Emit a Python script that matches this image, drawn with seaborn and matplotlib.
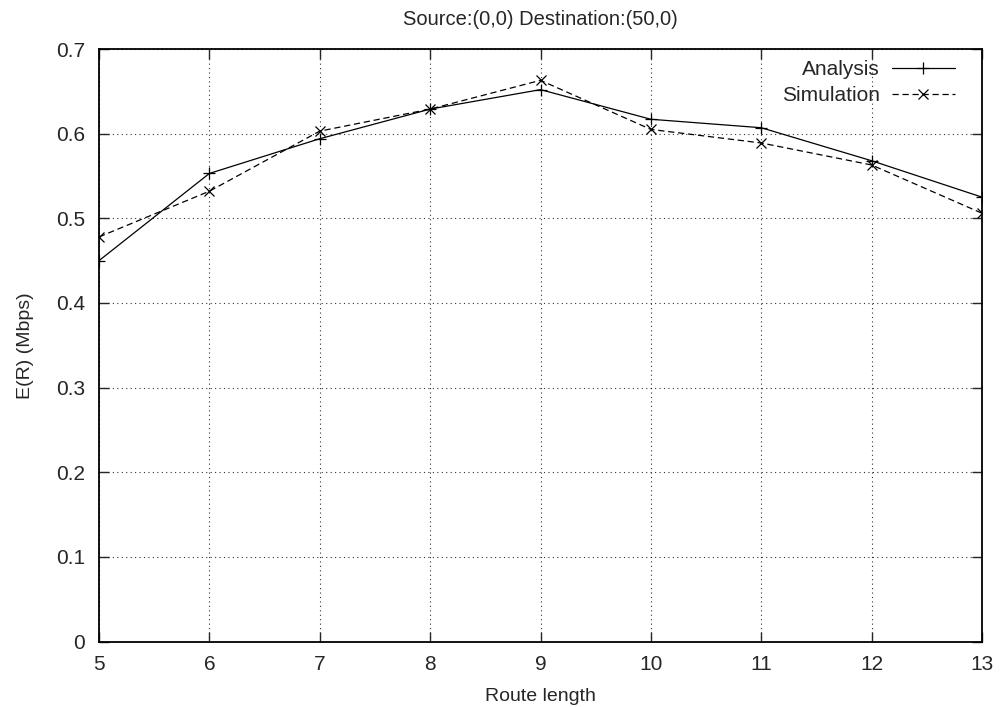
import numpy as np
import pandas as pd
import matplotlib
matplotlib.use("Agg")
import matplotlib.pyplot as plt
import seaborn as sns

route_length = [5, 6, 7, 8, 9, 10, 11, 12, 13]
analysis = [0.450, 0.553, 0.594, 0.629, 0.652, 0.617, 0.607, 0.568, 0.525]
simulation = [0.478, 0.532, 0.603, 0.629, 0.663, 0.605, 0.589, 0.563, 0.506]
series_names = ["Analysis", "Simulation"]

df = pd.DataFrame({
    "Route length": route_length * 2,
    "E(R)": analysis + simulation,
    "series": [series_names[0]] * len(route_length) + [series_names[1]] * len(route_length),
})

sns.set_style("ticks")
plt.rcParams['font.family'] = ['Liberation Sans', 'DejaVu Sans']

fig = plt.figure(figsize=(10.02, 7.07), dpi=100)
ax = fig.add_axes([99/1002, 1 - 641.6/707, (982-99)/1002, (641.6-49)/707])

styles = {"Analysis": dict(marker="+", linestyle="-", markersize=8),
          "Simulation": dict(marker="x", linestyle=(0, (5, 3)), markersize=7)}
for name in series_names:
    sub = df[df["series"] == name]
    sns.lineplot(data=sub, x="Route length", y="E(R)", color="black",
                 markeredgewidth=0.9, markeredgecolor="black",
                 linewidth=0.9, label=name, ax=ax, **styles[name])

ax.set_xlim(5, 13)
ax.set_ylim(0, 0.7)
ax.set_xticks(route_length)
ax.set_yticks(np.arange(0, 0.71, 0.1))
ax.set_yticklabels(["0", "0.1", "0.2", "0.3", "0.4", "0.5", "0.6", "0.7"])
ax.grid(True, linestyle=(0, (1, 3)), color="black", linewidth=0.8, alpha=0.8)
ax.tick_params(direction="in", top=True, right=True, length=7, width=1.0,
               labelsize=15, pad=10)
for s in ax.spines.values():
    s.set_linewidth(1.3)
    s.set_color("black")

ax.set_xlabel("Route length", fontsize=14, labelpad=10)
ax.set_ylabel("E(R) (Mbps)", fontsize=14, labelpad=16)
ax.set_title("Source:(0,0) Destination:(50,0)", fontsize=14.5, pad=17)

handles, labels = ax.get_legend_handles_labels()
leg = ax.legend(handles, labels, loc="upper right", bbox_to_anchor=(0.975, 0.99),
                frameon=False, markerfirst=False,
                fontsize=15, handlelength=3.0, borderaxespad=0.0, borderpad=0.25,
                labelspacing=0.35, handletextpad=0.6)

fig.savefig("out.png", dpi=100)
